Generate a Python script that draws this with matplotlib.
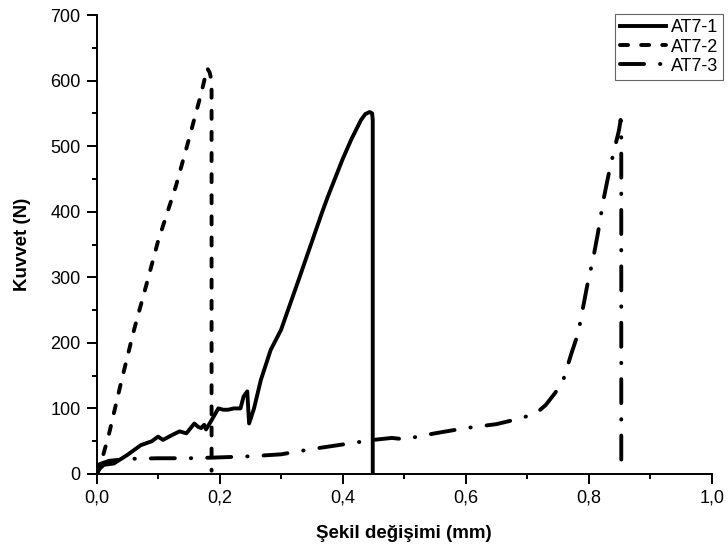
import matplotlib
matplotlib.use("Agg")
import matplotlib.pyplot as plt
from matplotlib.ticker import MultipleLocator, FuncFormatter

# AT7-1 (solid)
x1 = [0, 0.005, 0.012, 0.028, 0.05, 0.072, 0.09, 0.1, 0.108, 0.124, 0.135, 0.146,
      0.159, 0.165, 0.17, 0.175, 0.178, 0.187, 0.198, 0.206, 0.214, 0.223, 0.234,
      0.239, 0.245, 0.248, 0.256, 0.267, 0.283, 0.3, 0.33, 0.367, 0.376, 0.4, 0.414,
      0.43, 0.437, 0.444, 0.448, 0.449, 0.449]
y1 = [0, 8, 14, 16, 29, 44, 50, 57, 52, 60, 65, 62,
      77, 72, 70, 75, 68, 82, 100, 98, 98, 100, 100,
      118, 126, 77, 100, 143, 189, 220, 300, 400, 423, 480, 510,
      540, 549, 552, 550, 540, 0]

# AT7-2 (dashed)
x2 = [0, 0.003, 0.007, 0.02, 0.04, 0.061, 0.08, 0.1, 0.129, 0.15, 0.17, 0.18,
      0.184, 0.187, 0.187]
y2 = [0, 5, 16, 60, 140, 220, 285, 355, 439, 510, 580, 619,
      612, 600, 5]

# AT7-3 (dash-dot)
x3 = [0, 0.005, 0.02, 0.05, 0.1, 0.15, 0.19, 0.25, 0.3, 0.35, 0.4, 0.45, 0.48,
      0.5, 0.55, 0.6, 0.65, 0.69, 0.715, 0.73, 0.745, 0.758, 0.772, 0.783, 0.799,
      0.807, 0.815, 0.824, 0.834, 0.843, 0.849, 0.852, 0.853, 0.853]
y3 = [10, 15, 20, 23, 24, 24, 25, 27, 30, 38, 45, 52, 55,
      53, 62, 70, 76, 85, 93, 105, 123, 141, 184, 215, 294,
      327, 367, 418, 464, 500, 523, 540, 520, 20]

labels = ["AT7-1", "AT7-2", "AT7-3"]

plt.rcParams["font.family"] = ["Liberation Sans", "DejaVu Sans"]
plt.rcParams["lines.scale_dashes"] = False

fig = plt.figure(figsize=(7.28, 5.5), dpi=100)
ax = fig.add_axes([0.1326, 0.1382, 0.845, 0.8345])

lw = 2.8
ax.plot(x1, y1, color="black", lw=lw, solid_joinstyle="round", label=labels[0])
ax.plot(x2, y2, color="black", lw=lw, dashes=(5.8, 9.4), dash_capstyle="round",
        label=labels[1])
ax.plot(x3, y3, color="black", lw=lw, dashes=(17.3, 11.5, 0.3, 11.5),
        dash_capstyle="round", label=labels[2])

ax.set_xlim(0, 1.0)
ax.set_ylim(0, 700)
ax.xaxis.set_major_locator(MultipleLocator(0.2))
ax.xaxis.set_minor_locator(MultipleLocator(0.1))
ax.yaxis.set_major_locator(MultipleLocator(100))
ax.yaxis.set_minor_locator(MultipleLocator(50))
ax.xaxis.set_major_formatter(FuncFormatter(lambda v, p: f"{v:.1f}".replace(".", ",")))

for side in ("top", "right"):
    ax.spines[side].set_visible(False)
for side in ("left", "bottom"):
    ax.spines[side].set_linewidth(1.4)
ax.tick_params(which="major", length=7, width=1.4, labelsize=13, pad=4.5,
               direction="out")
ax.tick_params(which="minor", length=3.6, width=1.4, direction="out")

ax.set_xlabel("Şekil değişimi (mm)", fontsize=13.5, fontweight="bold", labelpad=13)
ax.set_ylabel("Kuvvet (N)", fontsize=13.5, fontweight="bold", labelpad=14)

leg = ax.legend(loc="upper left", bbox_to_anchor=(615 / 728, 1 - 14 / 550),
                bbox_transform=fig.transFigure, fontsize=13,
                handlelength=2.5, handletextpad=0.28, labelspacing=0.12,
                borderpad=0.3, borderaxespad=0.0, fancybox=False, framealpha=1)
leg.get_frame().set_edgecolor("#666666")
leg.get_frame().set_linewidth(0.8)

fig.savefig("out.png", dpi=100)
